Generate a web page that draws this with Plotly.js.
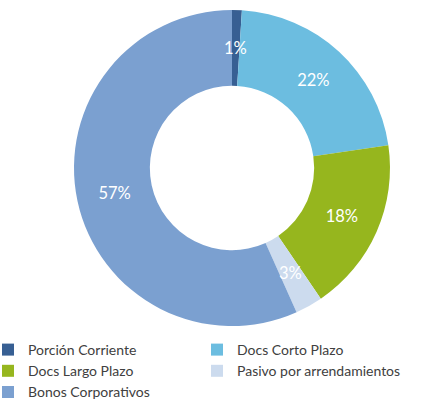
<!DOCTYPE html>
<html><head><meta charset="utf-8">
<script src="https://cdn.plot.ly/plotly-3.0.1.min.js"></script>
<style>html,body{margin:0;padding:0;background:#fff}#c{width:424px;height:404px}</style>
</head><body><div id="c"></div>
<script>
const categories = ["Porción Corriente","Docs Corto Plazo","Docs Largo Plazo","Pasivo por arrendamientos","Bonos Corporativos"];
const values = [1.0, 21.7, 17.8, 2.8, 56.7];
const colors = ["#375F93","#6CBDE0","#96B61E","#CCDBEE","#7BA0D0"];

const W = 424, H = 404, MB = 74;
const PH = H - MB;
const HOLE = 0.52;
const domX = [74/W, 390/W];
const domY = [1 - 326/PH, 1 - 10/PH];
const total = values.reduce((a,b)=>a+b,0);
const textFont = {family:'Lato, "Open Sans", sans-serif', size:16.5, color:'#ffffff'};

const annotations = [];
const templates = [];
let cum = 0;
const R = Math.min(W*(domX[1]-domX[0]), PH*(domY[1]-domY[0]))/2;
const cx = (domX[0]+domX[1])/2, cy = (domY[0]+domY[1])/2;
values.forEach((v,i)=>{
  const share = v/total;
  const mid = (cum + v/2)/total*2*Math.PI;
  cum += v;
  if (share < 0.05) {
    templates.push('');
    const rm = R*(1+HOLE)/2;
    annotations.push({xref:'paper', yref:'paper', x: cx + rm*Math.sin(mid)/W, y: cy + rm*Math.cos(mid)/PH,
      text: Math.round(share*100)+'%', showarrow:false, font:textFont, xanchor:'center', yanchor:'middle'});
  } else templates.push('%{percent:.0%}');
});

Plotly.newPlot('c', [{
  type:'pie', labels:categories, values:values, hole:HOLE, sort:false,
  direction:'clockwise', rotation:0,
  marker:{colors:colors, line:{width:0}},
  texttemplate:templates, textposition:'inside',
  insidetextorientation:'horizontal',
  textfont:textFont,
  hoverinfo:'none',
  domain:{x:domX, y:domY}
}], {
  width:W, height:H, margin:{l:0,r:0,t:0,b:MB, autoexpand:false},
  paper_bgcolor:'#ffffff',
  uniformtext:{mode:'show', minsize:16.5},
  annotations:annotations,
  showlegend:true,
  legend:{orientation:'h', x:-12/W, xanchor:'left', y:(PH-334)/PH, yanchor:'top',
    entrywidth:164, entrywidthmode:'pixels', traceorder:'normal',
    bgcolor:'rgba(0,0,0,0)',
    font:{family:'Lato, "Open Sans", sans-serif', size:14, color:'#404040'}}
}, {displayModeBar:false, staticPlot:true});
</script></body></html>
